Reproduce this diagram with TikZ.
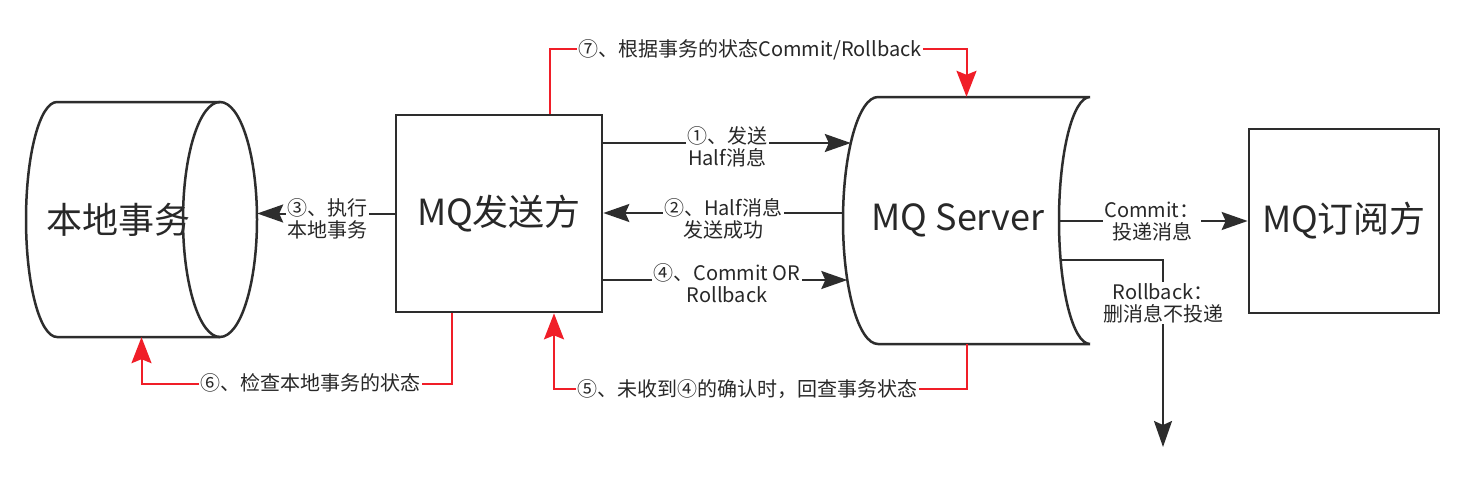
\documentclass[tikz,border=0pt]{standalone}
\usepackage{fontspec}
\newfontfamily\cjk{Noto Sans CJK SC}
\usetikzlibrary{arrows.meta}
\definecolor{ink}{RGB}{45,45,45}
\definecolor{txt}{RGB}{40,40,40}
\definecolor{redl}{RGB}{240,30,40}
\tikzset{
  big/.style={font=\cjk\fontsize{36}{40}\selectfont, text=txt},
  lbl/.style={font=\cjk\fontsize{20}{22}\selectfont, text=txt, fill=white, inner sep=1.5pt, align=center},
  box/.style={draw=ink, line width=2.7pt, fill=white, big, inner sep=0pt},
  shp/.style={draw=ink, line width=2.5pt, fill=white},
  arr/.style={draw=ink, line width=2pt, -{Stealth[length=26pt,width=18pt,inset=4pt]}},
  rarr/.style={draw=redl, line width=2pt, -{Stealth[length=26pt,width=20pt,inset=4pt]}},
}
\begin{document}
\begin{tikzpicture}[x=1pt,y=-1pt]
\useasboundingbox[fill=white] (0,0) rectangle (1459,479);

% local transaction cylinder
\node[inner sep=0pt, minimum width=231pt, minimum height=235pt] (cyl) at (141.5,219.5) {};
\draw[shp] (220,102) -- (57,102) arc[start angle=90, end angle=270, x radius=31pt, y radius=117.5pt] -- (220,337);
\node[big] (cyltxt) at (118,220) {本地事务};
\draw[shp, fill=none] (220,219.5) ellipse[x radius=37pt, y radius=117.5pt];

% MQ sender
\node[box, minimum width=206pt, minimum height=197pt] (snd) at (499,213.5) {MQ发送方};

% MQ server
\node[inner sep=0pt, minimum width=247pt, minimum height=247pt] (srv) at (966.5,220.5) {};
\draw[shp] (878,97) -- (1090,97) arc[start angle=90, end angle=270, x radius=31pt, y radius=123.5pt]
  -- (878,344) arc[start angle=270, end angle=90, x radius=35pt, y radius=123.5pt] -- cycle;
\node[big] (srvtxt) at (958,220) {MQ Server};

% MQ subscriber
\node[box, minimum width=190pt, minimum height=184pt] (sub) at (1344,221) {MQ订阅方};

% points on the server curves
\coordinate (s1) at (850.8,143);
\coordinate (s2) at (843.1,213);
\coordinate (s4) at (847.3,280);
\coordinate (r1) at (1059,221);
\coordinate (r2) at (1060.6,260);
\coordinate (rbEnd) at (1163,447);

% black connectors
\draw[arr] (snd.east |- s1) -- (s1);
\node[lbl] (l1) at (727,147) {①、发送\\Half消息};
\draw[arr] (s2) -- (snd.east |- s2);
\node[lbl] (l2) at (723,219) {②、Half消息\\发送成功};
\draw[arr] (snd.west) -- (snd.west -| cyl.east);
\node[lbl] (l3) at (327,219) {③、执行\\本地事务};
\draw[arr] (snd.east |- s4) -- (s4);
\node[lbl] (l4) at (727,283) {④、Commit OR\\Rollback};
\draw[arr] (r1) -- (sub.west);
\node[lbl] (lc) at (1152,222) {Commit：\\投递消息};
\draw[arr] (r2) -| (rbEnd);
\node[lbl] (lr) at (1163,303) {Rollback：\\删消息不投递};

% red connectors
\draw[rarr] ([xshift=-47pt]snd.south) -- ++(0,71) -| (cyl.south);
\node[lbl] (l6) at (310,383) {⑥、检查本地事务的状态};
\draw[rarr] (srv.south) -- ++(0,45) -| ([xshift=55pt]snd.south);
\node[lbl] (l5) at (747,389) {⑤、未收到④的确认时，回查事务状态};
\draw[rarr] ([xshift=51pt]snd.north) -- ++(0,-65) -| (srv.north);
\node[lbl] (l7) at (750,50) {⑦、根据事务的状态Commit/Rollback};
\end{tikzpicture}
\end{document}
